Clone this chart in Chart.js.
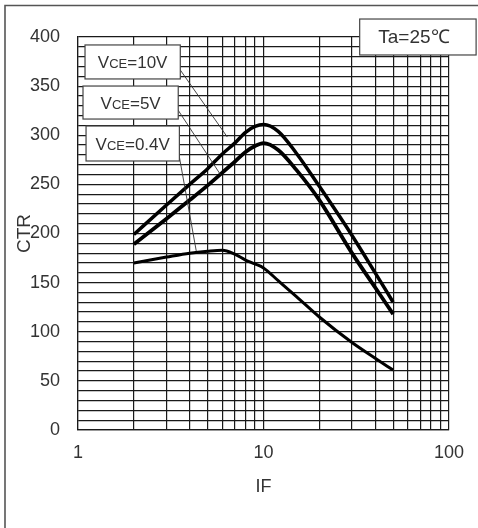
<!DOCTYPE html>
<html><head><meta charset="utf-8">
<script src="https://cdn.jsdelivr.net/npm/chart.js@4.4.1/dist/chart.umd.min.js"></script>
<style>html,body{margin:0;padding:0;background:#fff;}canvas{display:block}</style>
</head><body>
<canvas id="c" width="478" height="528"></canvas>
<script>
// ---- data ----
const IF = [2, 3, 4, 5, 6, 7, 8, 9, 10, 12, 15, 20, 30, 40, 50];
const CTR_VCE10 = [199, 229, 250, 266, 281, 292, 303, 309, 311, 304, 282, 248, 198, 160, 130];
const CTR_VCE5  = [189, 215, 234, 249, 262, 273, 283, 289, 292, 285, 265, 234, 180, 145, 118];
const CTR_VCE04 = [170, 176, 180, 182, 183, 179, 173, 169, 165, 152, 136, 115, 89, 73, 61];
const X_GRID = [1, 2, 3, 4, 5, 6, 7, 8, 9, 10, 20, 30, 40, 50, 60, 70, 80, 90, 100];
const X_TICK_LABELS = [1, 10, 100];
const Y_TICK_LABELS = [0, 50, 100, 150, 200, 250, 300, 350, 400];
const SERIES_NAMES = ['VCE=10V', 'VCE=5V', 'VCE=0.4V'];
const X_TITLE = 'IF';
const Y_TITLE = 'CTR';
const COND_TEXT = 'Ta=25\u2103';

const Y_GRID = [];
for (let v = 0; v <= 400; v += 10) Y_GRID.push(v);

// ---- annotation placement (data coordinates) ----
const NOTES = [
  {pre: 'V', sub: 'CE', post: '=10V', box: [1.091, 3.56, 391.9, 357.3], from: [3.56, 366.4], to: [6.38, 298.2]},
  {pre: 'V', sub: 'CE', post: '=5V', box: [1.064, 3.47, 350.1, 316.5], from: [3.46, 325.7], to: [5.86, 260]},
  {pre: 'V', sub: 'CE', post: '=0.4V', box: [1.105, 3.52, 309.4, 273.8], from: [3.52, 277.9], to: [4.34, 182.2]}
];
const COND_BOX = [33.0, 140, 418.3, 381.7];

const FONT = "'Liberation Sans', Arial, sans-serif";
Chart.defaults.font.family = FONT;

const GRID_COLOR = '#1a1a1a';
const TEXT_COLOR = '#333';

function mk(vals) { return IF.map((x, i) => ({x: x, y: vals[i]})); }

const annot = {
  id: 'annot',
  beforeDraw(chart) {
    const ctx = chart.ctx;
    ctx.save();
    ctx.fillStyle = '#fff';
    ctx.fillRect(0, 0, chart.width, chart.height);
    ctx.strokeStyle = '#555';
    ctx.lineWidth = 1.6;
    ctx.beginPath();
    ctx.moveTo(5, 528); ctx.lineTo(5, 5.5); ctx.lineTo(478, 5.5);
    ctx.stroke();
    ctx.restore();
  },
  afterDatasetsDraw(chart) {
    const ctx = chart.ctx;
    const xs = chart.scales.x, ys = chart.scales.y;
    const px = v => xs.getPixelForValue(v), py = v => ys.getPixelForValue(v);
    ctx.save();
    // leader lines
    ctx.strokeStyle = '#333';
    ctx.lineWidth = 0.9;
    NOTES.forEach(n => {
      ctx.beginPath();
      ctx.moveTo(px(n.from[0]), py(n.from[1]));
      ctx.lineTo(px(n.to[0]), py(n.to[1]));
      ctx.stroke();
    });
    // boxes
    const drawBox = (b) => {
      const x1 = px(b[0]), x2 = px(b[1]), y1 = py(b[2]), y2 = py(b[3]);
      ctx.fillStyle = '#fff';
      ctx.fillRect(x1, y1, x2 - x1, y2 - y1);
      ctx.strokeStyle = '#444';
      ctx.lineWidth = 1.2;
      ctx.strokeRect(x1, y1, x2 - x1, y2 - y1);
      return {x1, x2, y1, y2};
    };
    NOTES.forEach(n => {
      const r = drawBox(n.box);
      const big = '17px ' + FONT, small = '13px ' + FONT;
      ctx.font = big; const w1 = ctx.measureText(n.pre).width;
      const w3 = ctx.measureText(n.post).width;
      ctx.font = small; const w2 = ctx.measureText(n.sub).width;
      const total = w1 + w2 + w3;
      let x = (r.x1 + r.x2) / 2 - total / 2;
      const base = (r.y1 + r.y2) / 2 + 6;
      ctx.fillStyle = TEXT_COLOR;
      ctx.textBaseline = 'alphabetic';
      ctx.textAlign = 'left';
      ctx.font = big; ctx.fillText(n.pre, x, base); x += w1;
      ctx.font = small; ctx.fillText(n.sub, x, base); x += w2;
      ctx.font = big; ctx.fillText(n.post, x, base);
    });
    const r = drawBox(COND_BOX);
    ctx.font = '19px ' + FONT;
    ctx.fillStyle = TEXT_COLOR;
    ctx.textAlign = 'center';
    ctx.textBaseline = 'middle';
    ctx.fillText(COND_TEXT, (r.x1 + r.x2) / 2 - 4, (r.y1 + r.y2) / 2 + 1);
    ctx.restore();
  }
};

new Chart(document.getElementById('c'), {
  type: 'line',
  data: {
    datasets: [
      {label: SERIES_NAMES[0], data: mk(CTR_VCE10), borderColor: '#000', borderWidth: 3.5},
      {label: SERIES_NAMES[1], data: mk(CTR_VCE5), borderColor: '#000', borderWidth: 3.8},
      {label: SERIES_NAMES[2], data: mk(CTR_VCE04), borderColor: '#000', borderWidth: 3}
    ]
  },
  options: {
    responsive: false,
    animation: false,
    devicePixelRatio: 1,
    layout: {padding: {left: 0, right: 29, top: 37, bottom: 0}},
    elements: {point: {radius: 0}, line: {cubicInterpolationMode: 'monotone', fill: false}},
    plugins: {legend: {display: false}, tooltip: {enabled: false}},
    scales: {
      x: {
        type: 'logarithmic', min: 1, max: 100,
        afterBuildTicks: s => { s.ticks = X_GRID.map(v => ({value: v})); },
        afterFit: s => { s.height = 98; },
        ticks: {autoSkip: false, maxRotation: 0, padding: 12, color: TEXT_COLOR, font: {size: 18},
          callback: v => X_TICK_LABELS.includes(v) ? String(v) : ''},
        grid: {color: GRID_COLOR, lineWidth: 1.2, drawTicks: false},
        border: {color: GRID_COLOR, width: 1.2},
        title: {display: true, text: X_TITLE, color: TEXT_COLOR, font: {size: 18}, padding: {top: 0, bottom: 30}}
      },
      y: {
        type: 'linear', min: 0, max: 400,
        afterBuildTicks: s => { s.ticks = Y_GRID.map(v => ({value: v})); },
        afterFit: s => { s.width = 78; },
        ticks: {autoSkip: false, padding: 18, color: TEXT_COLOR, font: {size: 18},
          callback: v => Y_TICK_LABELS.includes(v) ? String(v) : ''},
        grid: {color: GRID_COLOR, lineWidth: 1.2, drawTicks: false},
        border: {color: GRID_COLOR, width: 1.2},
        title: {display: true, text: Y_TITLE, color: TEXT_COLOR, font: {size: 19}, padding: {top: 13, bottom: 0}}
      }
    }
  },
  plugins: [annot]
});
</script>
</body></html>
